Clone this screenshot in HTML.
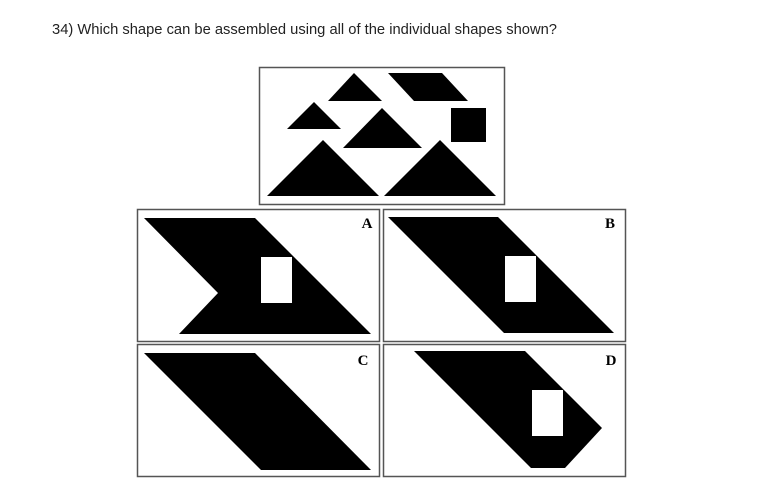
<!DOCTYPE html>
<html><head><meta charset="utf-8"><style>
html,body{margin:0;padding:0;background:#fff;width:782px;height:490px;overflow:hidden}
svg{display:block}
</style></head><body>
<svg width="782" height="490" viewBox="0 0 782 490" xmlns="http://www.w3.org/2000/svg">
<text x="52" y="34" font-family="Liberation Sans, sans-serif" font-size="15" textLength="505" lengthAdjust="spacingAndGlyphs" fill="#222">34) Which shape can be assembled using all of the individual shapes shown?</text>

<g>
<rect x="259.5" y="67.5" width="245" height="137" fill="#fff" stroke="#555" stroke-width="1.5"/>
<polygon points="354,73 328,101 382,101" fill="#000"/>
<polygon points="388,73 442,73 468,101 414,101" fill="#000"/>
<polygon points="314,102 287,129 341,129" fill="#000"/>
<rect x="451" y="108" width="35" height="34" fill="#000"/>
<polygon points="382,108 343,148 422,148" fill="#000"/>
<polygon points="323,140 267,196 379,196" fill="#000"/>
<polygon points="440,140 384,196 496,196" fill="#000"/>
</g>

<g>
<rect x="137.5" y="209.5" width="242" height="132" fill="#fff" stroke="#555" stroke-width="1.5"/>
<polygon points="144,218 255,218 371,334 179,334 218,293" fill="#000"/>
<rect x="261" y="257" width="31" height="46" fill="#fff"/>
<text x="367" y="228" text-anchor="middle" font-family="Liberation Serif, serif" font-weight="bold" font-size="15">A</text>
</g>
<g>
<rect x="383.5" y="209.5" width="242" height="132" fill="#fff" stroke="#555" stroke-width="1.5"/>
<polygon points="388,217 498,217 614,333 504,333" fill="#000"/>
<rect x="505" y="256" width="31" height="46" fill="#fff"/>
<text x="610" y="228" text-anchor="middle" font-family="Liberation Serif, serif" font-weight="bold" font-size="15">B</text>
</g>
<g>
<rect x="137.5" y="344.5" width="242" height="132" fill="#fff" stroke="#555" stroke-width="1.5"/>
<polygon points="144,353 255,353 371,470 261,470" fill="#000"/>
<text x="363" y="365" text-anchor="middle" font-family="Liberation Serif, serif" font-weight="bold" font-size="15">C</text>
</g>
<g>
<rect x="383.5" y="344.5" width="242" height="132" fill="#fff" stroke="#555" stroke-width="1.5"/>
<polygon points="414,351 525,351 602,428 565,468 531,468" fill="#000"/>
<rect x="532" y="390" width="31" height="46" fill="#fff"/>
<text x="611" y="365" text-anchor="middle" font-family="Liberation Serif, serif" font-weight="bold" font-size="15">D</text>
</g>
</svg>
</body></html>
